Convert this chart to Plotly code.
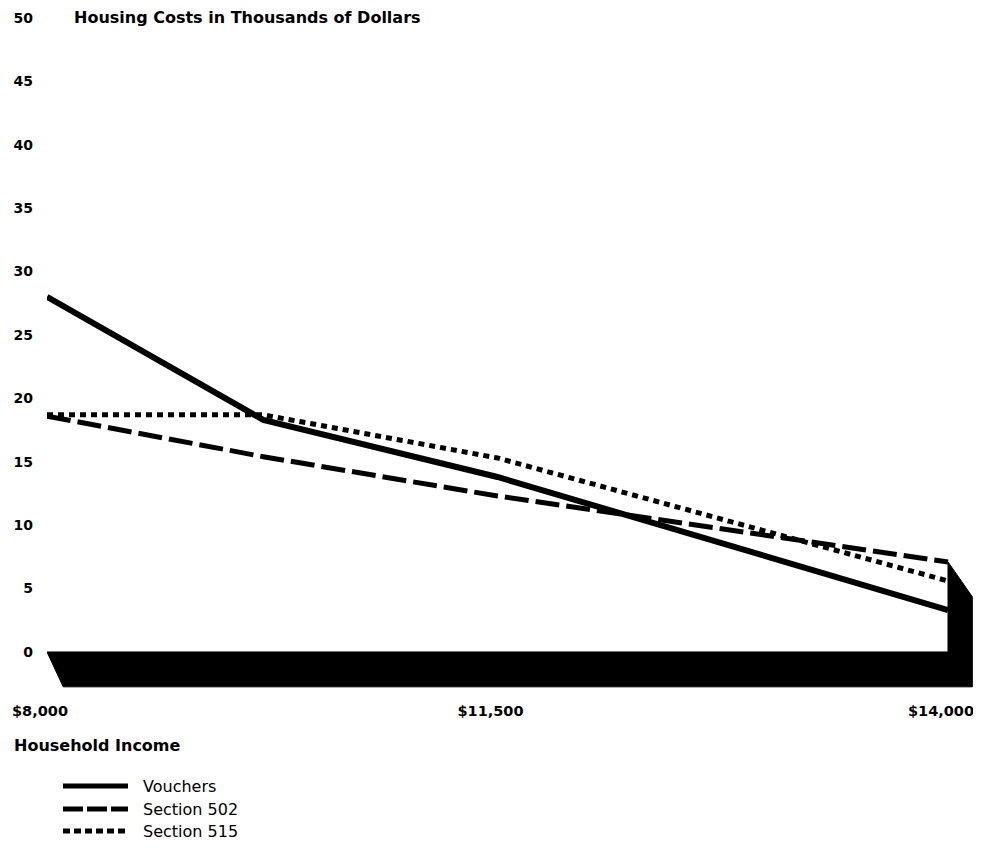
import plotly.graph_objects as go

# Positions along the chart's x axis (0 = $8,000, 0.5 = $11,500, 1 = $14,000)
x_pos = [0.0, 0.24, 0.5, 1.0]
x_tick_pos = [0.0, 0.5, 1.0]
x_tick_labels = ["$8,000", "$11,500", "$14,000"]

vouchers = [28.0, 18.3, 13.8, 3.3]
section_502 = [18.6, 15.4, 12.3, 7.1]
section_515 = [18.7, 18.7, 15.3, 5.6]

y_ticks = [0, 5, 10, 15, 20, 25, 30, 35, 40, 45, 50]

series_names = ["Vouchers", "Section 502", "Section 515"]

# 3-D floor / side-wall depth (style only)
depth_y = 2.75
depth_x_left = 0.018
depth_x_right = 0.027

TICK = dict(family="DejaVu Sans", size=14, color="black", weight="bold")
XTICK = dict(family="DejaVu Sans", size=14.5, color="black", weight="bold")
TITLE = dict(family="DejaVu Sans", size=16, color="black", weight="bold")

# page has an 8px body margin: size the figure to fit the 981x849 window
OFF = 8
FW, FH = 981 - 2 * OFF, 849 - 2 * OFF
L, T, B, R = 39, 0, 151, 0
W = FW - L - R
H = FH - T - B

def px_x(px):
    return (px - OFF - L) / W

def px_y(py):
    return (FH - B - (py - OFF)) / H

fig = go.Figure()

top_end = max(vouchers[-1], section_502[-1], section_515[-1])
floor_x = [x_pos[0], x_pos[-1], x_pos[-1], x_pos[-1] + depth_x_right,
           x_pos[-1] + depth_x_right, x_pos[0] + depth_x_left, x_pos[0]]
floor_y = [0, 0, top_end, top_end - depth_y, -depth_y, -depth_y, 0]
fig.add_trace(go.Scatter(x=floor_x, y=floor_y, mode="lines", fill="toself",
                         fillcolor="black", line=dict(color="black", width=1),
                         hoverinfo="skip", showlegend=False))

styles = [dict(width=6, dash="solid"),
          dict(width=5, dash="24px,7px"),
          dict(width=5, dash="6px,5px")]
for name, vals, st in zip(series_names, [vouchers, section_502, section_515], styles):
    fig.add_trace(go.Scatter(x=x_pos, y=vals, mode="lines", name=name,
                             line=dict(color="black", width=st["width"], dash=st["dash"]),
                             showlegend=False))

# Manual legend
legend_y = [786, 809, 831]
legend_dash = ["solid", "20px,4px", "7px,4px"]
shapes = []
annotations = []
for name, ly, dsh in zip(series_names, legend_y, legend_dash):
    shapes.append(dict(type="line", xref="paper", yref="paper",
                       x0=px_x(63), x1=px_x(128), y0=px_y(ly), y1=px_y(ly),
                       line=dict(color="black", width=5, dash=dsh)))
    annotations.append(dict(xref="paper", yref="paper", x=px_x(141), y=px_y(ly),
                            text=name, showarrow=False, xanchor="left", yanchor="middle",
                            font=dict(family="DejaVu Sans", size=16, color="black")))

annotations.append(dict(xref="paper", yref="paper", x=px_x(72), y=px_y(18),
                        text="Housing Costs in Thousands of Dollars", showarrow=False,
                        xanchor="left", yanchor="middle", font=TITLE))
annotations.append(dict(xref="paper", yref="paper", x=px_x(12), y=px_y(745),
                        text="Household Income", showarrow=False,
                        xanchor="left", yanchor="middle", font=TITLE))

x_max = W / 901.0
fig.update_layout(
    width=FW, height=FH,
    margin=dict(l=L, r=R, t=T, b=B),
    paper_bgcolor="white", plot_bgcolor="white",
    showlegend=False,
    shapes=shapes, annotations=annotations,
    xaxis=dict(range=[0, x_max], tickvals=x_tick_pos, ticktext=x_tick_labels,
               showgrid=False, zeroline=False, showline=False, ticks="",
               tickfont=XTICK, ticklabelstandoff=10, ticklabelshift=-7,
               ticklabeloverflow="allow", automargin=False),
    yaxis=dict(range=[-3, H / 12.68 - 3], tickvals=y_ticks, showgrid=False,
               zeroline=False, showline=False, ticks="", tickfont=TICK,
               ticklabelstandoff=13, automargin=False),
)

fig.write_html("out.html")
